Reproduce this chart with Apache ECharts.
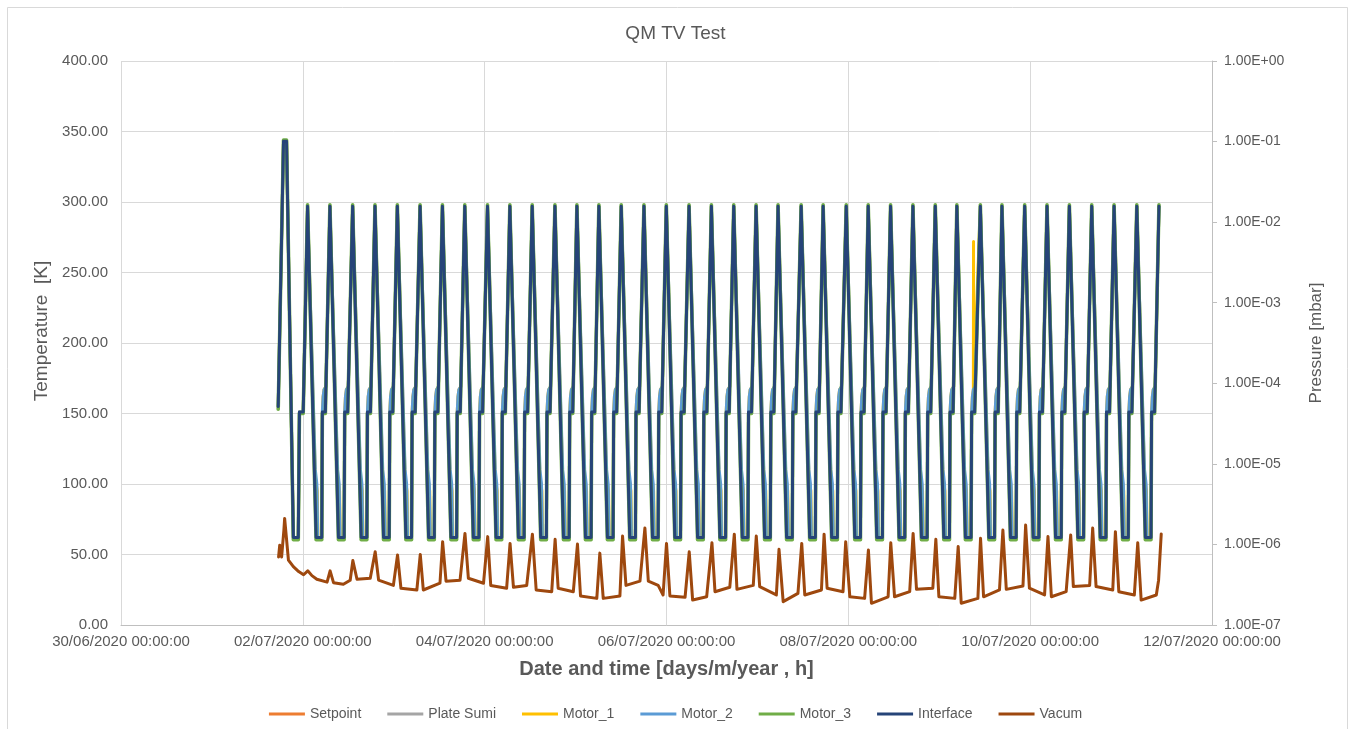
<!DOCTYPE html>
<html>
<head>
<meta charset="UTF-8">
<title>QM TV Test</title>
<script src="https://cdn.jsdelivr.net/npm/echarts@6/dist/echarts.min.js"></script>
<style>
  html, body { margin: 0; padding: 0; background: #fff; }
  #myChart { width: 1351px; height: 729px; }
</style>
</head>
<body>
<div id="myChart"></div>
<script>
// hours counted from 30/06/2020 00:00:00
var seriesNames = ['Setpoint', 'Plate Sumi', 'Motor_1', 'Motor_2', 'Motor_3', 'Interface', 'Vacum'];
var seriesColors = ['#ED7D31', '#A5A5A5', '#FFC000', '#5B9BD5', '#70AD47', '#264478', '#9E480E'];

// warm-up before the regular cycling
var warmHours = [41.5, 42.9, 43.7, 45.5, 46.8, 47.1, 48.1];
var warmTemp  = [155, 343, 343, 62, 62, 151, 151];
var warmTemp3 = [153, 344, 344, 60.5, 60.5, 150, 150];

// centre of the hot plateau of every cycle (h)
var cyclePeaks = [49.5, 55.4, 61.4, 67.3, 73.2, 79.2, 85.1, 91.0, 97.0, 102.9, 108.8, 114.8,
  120.6, 126.4, 132.3, 138.3, 144.2, 150.2, 156.1, 162.0, 167.9, 173.7, 179.8, 185.6, 191.7,
  197.5, 203.4, 209.3, 215.2, 220.9, 227.1, 232.8, 238.8, 244.7, 250.6, 256.5, 262.4, 268.4];
var lastRiseEnd = 274.0;

// one cycle, offsets from the hot centre (h) and temperatures (K)
var ifOffsets = [-0.25, 0.25, 2.0, 3.5, 3.65, 4.45];
var ifTemps   = [297, 297, 62, 62, 151, 151];
var m3Temps   = [298, 298, 60.5, 60.5, 150, 150];
var m2Offsets = [-0.25, 0.25, 1.8, 2.2, 2.45, 3.5, 3.65, 3.85, 4.1, 4.45, 4.6];
var m2Temps   = [297, 297, 110, 100, 62, 62, 151, 162, 167, 168, 169];
var m1Offsets = [-0.25, 0.25, 1.8, 2.3, 2.5, 3.5, 3.65, 3.85, 4.1, 4.45, 4.6];
var m1Temps   = [297, 297, 105, 95, 62, 62, 151, 162, 167, 168, 169];

// Motor_1 glitch
var m1SpikeHours = [225.04, 225.05, 225.06];
var m1SpikeTemps = [168, 272, 168];

// vacuum gauge (mbar)
var vacHours = [41.6, 41.9, 42.4, 43.0, 43.2, 43.6, 44.2, 45.5, 46.9, 48.2, 49.3, 49.7, 50.4, 51.7,
  54.4, 55.2, 55.6, 56.1, 58.7, 60.5, 61.2, 61.6, 62.3, 65.8, 67.1, 67.5, 68.0, 71.9, 73.0, 73.4,
  73.9, 78.1, 79.0, 79.4, 79.8, 84.2, 84.9, 85.3, 85.8, 89.5, 90.8, 91.2, 91.7, 95.7, 96.8, 97.2,
  97.6, 101.8, 102.7, 103.1, 103.6, 107.1, 108.6, 109.0, 109.6, 113.7, 114.6, 115.0, 115.4, 119.4,
  120.5, 120.9, 121.3, 125.6, 126.4, 126.8, 127.3, 131.7, 132.4, 132.8, 133.3, 137.0, 138.3, 138.7,
  139.2, 141.8, 143.1, 144.0, 144.4, 144.9, 148.9, 150.0, 150.4, 150.9, 154.6, 156.0, 156.4, 156.8,
  160.7, 161.9, 162.3, 162.6, 166.9, 167.7, 168.1, 168.6, 173.0, 173.7, 174.1, 174.8, 178.7, 179.7,
  180.1, 180.5, 184.9, 185.6, 186.0, 186.4, 190.6, 191.3, 191.7, 192.4, 196.3, 197.3, 197.7, 198.1,
  202.5, 203.2, 203.6, 204.2, 208.2, 209.1, 209.5, 210.0, 214.3, 215.1, 215.5, 215.9, 220.1, 221.0,
  221.4, 221.8, 226.2, 226.9, 227.3, 227.7, 231.9, 232.8, 233.2, 233.7, 238.1, 238.8, 239.2, 239.8,
  243.8, 244.7, 245.1, 245.6, 249.5, 250.7, 251.1, 251.4, 255.7, 256.5, 256.9, 257.4, 261.8, 262.5,
  262.9, 263.4, 267.5, 268.4, 268.8, 269.3, 273.3, 273.9, 274.6];
var vacPressure = [7.0e-7, 9.8e-7, 7.0e-7, 1.5e-6, 2.1e-6, 2.0e-6, 6.4e-7, 5.3e-7, 4.6e-7, 4.2e-7,
  4.7e-7, 4.7e-7, 4.1e-7, 3.7e-7, 3.4e-7, 4.7e-7, 4.7e-7, 3.35e-7, 3.2e-7, 3.6e-7, 6.3e-7, 6.3e-7,
  3.7e-7, 3.8e-7, 8.1e-7, 8.1e-7, 3.6e-7, 3.1e-7, 7.4e-7, 7.4e-7, 2.86e-7, 2.72e-7, 7.5e-7, 7.5e-7,
  2.72e-7, 3.3e-7, 1.08e-6, 1.08e-6, 3.5e-7, 3.6e-7, 1.37e-6, 1.37e-6, 3.8e-7, 3.3e-7, 1.25e-6,
  1.25e-6, 3.1e-7, 2.86e-7, 1.03e-6, 1.03e-6, 2.94e-7, 3.1e-7, 1.34e-6, 1.34e-6, 2.72e-7, 2.59e-7,
  1.16e-6, 1.16e-6, 2.86e-7, 2.59e-7, 1.01e-6, 1.01e-6, 2.29e-7, 2.14e-7, 7.8e-7, 7.8e-7, 2.14e-7,
  2.29e-7, 1.27e-6, 1.27e-6, 3.1e-7, 3.5e-7, 1.6e-6, 1.6e-6, 3.5e-7, 3.1e-7, 2.36e-7, 1.03e-6,
  1.03e-6, 2.29e-7, 2.21e-7, 8.1e-7, 8.1e-7, 2.04e-7, 2.24e-7, 1.05e-6, 1.05e-6, 2.59e-7, 2.94e-7,
  1.34e-6, 1.34e-6, 2.77e-7, 3.1e-7, 1.27e-6, 1.27e-6, 3.0e-7, 2.36e-7, 8.7e-7, 8.7e-7, 1.95e-7,
  2.47e-7, 1.03e-6, 1.03e-6, 2.36e-7, 2.72e-7, 1.34e-6, 1.34e-6, 2.86e-7, 2.59e-7, 1.08e-6, 1.08e-6,
  2.24e-7, 2.14e-7, 8.5e-7, 8.5e-7, 1.86e-7, 2.24e-7, 1.05e-6, 1.05e-6, 2.24e-7, 2.59e-7, 1.37e-6,
  1.37e-6, 2.77e-7, 2.86e-7, 1.16e-6, 1.16e-6, 2.24e-7, 2.14e-7, 9.4e-7, 9.4e-7, 1.86e-7, 2.14e-7,
  1.19e-6, 1.19e-6, 2.24e-7, 2.72e-7, 1.51e-6, 1.51e-6, 2.77e-7, 3.05e-7, 1.74e-6, 1.74e-6, 2.86e-7,
  2.36e-7, 1.25e-6, 1.25e-6, 2.24e-7, 2.59e-7, 1.31e-6, 1.31e-6, 3.0e-7, 3.1e-7, 1.6e-6, 1.6e-6,
  3.0e-7, 2.72e-7, 1.44e-6, 1.44e-6, 2.59e-7, 2.36e-7, 1.05e-6, 1.05e-6, 2.04e-7, 2.36e-7, 3.6e-7,
  1.35e-6];

var xMin = 0, xMax = 288, xStep = 48;

function buildCycles(warmT, offsets, temps) {
    var out = [];
    for (var i = 0; i < warmHours.length; i++) out.push([warmHours[i], warmT[i]]);
    for (var c = 0; c < cyclePeaks.length; c++) {
        for (var k = 0; k < offsets.length; k++) {
            out.push([+(cyclePeaks[c] + offsets[k]).toFixed(3), temps[k]]);
        }
    }
    out.push([lastRiseEnd, temps[0]]);
    return out;
}

var dataInterface = buildCycles(warmTemp, ifOffsets, ifTemps);
var dataMotor3 = buildCycles(warmTemp3, ifOffsets, m3Temps);
var dataMotor2 = buildCycles(warmTemp, m2Offsets, m2Temps);
var dataMotor1 = buildCycles(warmTemp, m1Offsets, m1Temps);
for (var s = 0; s < m1SpikeHours.length; s++) dataMotor1.push([m1SpikeHours[s], m1SpikeTemps[s]]);
dataMotor1.sort(function (a, b) { return a[0] - b[0]; });

var dataVacum = [];
for (var v = 0; v < vacHours.length; v++) dataVacum.push([vacHours[v], vacPressure[v]]);

function pad(n) { return n < 10 ? '0' + n : '' + n; }
function fmtDate(h) {
    var d = new Date(Date.UTC(2020, 5, 30) + h * 3600000);
    return pad(d.getUTCDate()) + '/' + pad(d.getUTCMonth() + 1) + '/' + d.getUTCFullYear() + ' ' +
        pad(d.getUTCHours()) + ':' + pad(d.getUTCMinutes()) + ':' + pad(d.getUTCSeconds());
}
function fmtSci(v) {
    var e = Math.round(Math.log(v) / Math.LN10);
    return '1.00E' + (e < 0 ? '-' : '+') + pad(Math.abs(e));
}

var txt = '#595959';
var font = 'Liberation Sans, Arial, sans-serif';

var chart = echarts.init(document.getElementById('myChart'), null, {renderer: 'canvas'});

function lineSeries(idx, data, width, yIndex) {
    return {
        name: seriesNames[idx],
        type: 'line',
        yAxisIndex: yIndex || 0,
        data: data,
        symbol: 'none',
        showSymbol: false,
        smooth: false,
        animation: false,
        lineStyle: {color: seriesColors[idx], width: width, join: 'round', cap: 'round'},
        itemStyle: {color: seriesColors[idx]}
    };
}

var option = {
    animation: false,
    backgroundColor: '#fff',
    textStyle: {fontFamily: font},
    graphic: [{
        type: 'rect', left: 5, top: 5, z: -1,
        shape: {width: 1340, height: 740},
        style: {fill: 'none', stroke: '#d9d9d9', lineWidth: 1}
    }],
    title: {
        text: 'QM TV Test', left: 'center', top: 19,
        textStyle: {fontSize: 19, fontWeight: 'normal', color: txt, fontFamily: font}
    },
    legend: {
        data: seriesNames, left: 'center', top: 702,
        icon: 'rect', itemWidth: 36, itemHeight: 3, itemGap: 26,
        textStyle: {fontSize: 14, color: txt, fontFamily: font}
    },
    grid: {left: 121, right: 139, top: 61, bottom: 104},
    xAxis: {
        type: 'value', min: xMin, max: xMax, interval: xStep,
        name: 'Date and time [days/m/year , h]', nameLocation: 'middle', nameGap: 34,
        nameTextStyle: {fontSize: 20, fontWeight: 'bold', color: txt, fontFamily: font},
        axisLine: {show: true, lineStyle: {color: '#bfbfbf', width: 1}},
        axisTick: {show: false},
        axisLabel: {color: txt, fontSize: 15, margin: 9, formatter: fmtDate, fontFamily: font},
        splitLine: {show: true, lineStyle: {color: '#d9d9d9', width: 1}}
    },
    yAxis: [{
        type: 'value', min: 0, max: 400, interval: 50, position: 'left',
        name: 'Temperature  [K]', nameLocation: 'middle', nameGap: 70, nameRotate: 90,
        nameTextStyle: {fontSize: 19, color: txt, fontFamily: font, padding: [0, 0, 0, 24]},
        axisLine: {show: false}, axisTick: {show: false},
        axisLabel: {color: txt, fontSize: 15, margin: 13, fontFamily: font,
            formatter: function (v) { return v.toFixed(2); }},
        splitLine: {show: true, lineStyle: {color: '#d9d9d9', width: 1}}
    }, {
        type: 'log', logBase: 10, min: 1e-7, max: 1, position: 'right',
        name: 'Pressure [mbar]', nameLocation: 'middle', nameGap: 96, nameRotate: 90,
        nameTextStyle: {fontSize: 17, color: txt, fontFamily: font},
        axisLine: {show: true, lineStyle: {color: '#bfbfbf', width: 1}},
        axisTick: {show: true, length: 5, lineStyle: {color: '#bfbfbf'}},
        axisLabel: {color: txt, fontSize: 14, margin: 12, formatter: fmtSci, fontFamily: font},
        splitLine: {show: false}
    }],
    series: [
        lineSeries(0, [], 3),
        lineSeries(1, [], 3),
        lineSeries(2, dataMotor1, 3),
        lineSeries(3, dataMotor2, 3),
        lineSeries(4, dataMotor3, 3.6),
        lineSeries(5, dataInterface, 3),
        lineSeries(6, dataVacum, 3, 1)
    ]
};
chart.setOption(option);
</script>
</body>
</html>
